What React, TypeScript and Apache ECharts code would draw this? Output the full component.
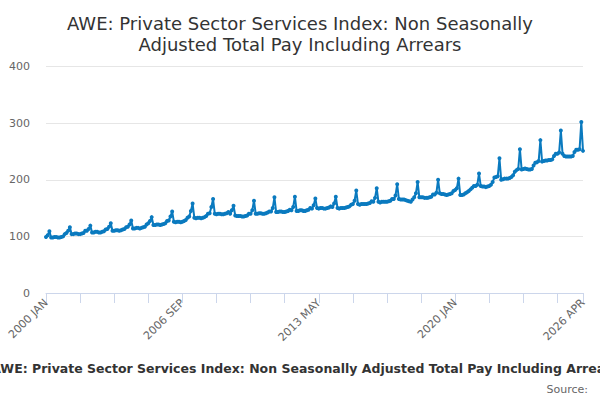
import React, { useEffect, useRef } from 'react';
import * as echarts from 'echarts';

const TITLE = 'AWE: Private Sector Services Index: Non Seasonally\nAdjusted Total Pay Including Arrears';
const FOOT = 'AWE: Private Sector Services Index: Non Seasonally Adjusted Total Pay Including Arrears';

const months = ['JAN', 'FEB', 'MAR', 'APR', 'MAY', 'JUN', 'JUL', 'AUG', 'SEP', 'OCT', 'NOV', 'DEC'];
const firstYear = 2000;

// monthly index values, one row per year (2000 = 100)
const y2000 = [99, 102, 109, 98, 98, 99, 99, 98, 98, 99, 100, 104];
const y2001 = [106, 110, 116, 104, 104, 105, 105, 104, 104, 105, 106, 110];
const y2002 = [110, 113, 119, 107, 107, 108, 108, 107, 107, 108, 109, 112];
const y2003 = [113, 117, 123, 110, 110, 111, 111, 110, 111, 112, 113, 116];
const y2004 = [117, 121, 128, 114, 114, 115, 115, 114, 115, 116, 117, 121];
const y2005 = [123, 127, 134, 120, 120, 121, 121, 120, 121, 122, 123, 127];
const y2006 = [128, 135, 144, 126, 125, 126, 126, 125, 126, 127, 129, 133];
const y2007 = [135, 145, 158, 133, 132, 133, 133, 132, 133, 134, 136, 140];
const y2008 = [141, 152, 166, 140, 139, 140, 140, 139, 139, 140, 141, 143];
const y2009 = [140, 146, 154, 137, 136, 136, 136, 135, 135, 136, 137, 140];
const y2010 = [140, 146, 163, 140, 140, 141, 141, 140, 140, 141, 142, 144];
const y2011 = [144, 150, 169, 143, 143, 144, 144, 143, 143, 144, 145, 147];
const y2012 = [146, 152, 170, 145, 145, 146, 146, 145, 145, 146, 147, 150];
const y2013 = [149, 155, 167, 150, 149, 150, 150, 149, 149, 150, 151, 153];
const y2014 = [152, 158, 170, 150, 149, 150, 150, 150, 151, 152, 153, 156];
const y2015 = [157, 163, 181, 157, 156, 157, 157, 157, 157, 158, 159, 162];
const y2016 = [161, 168, 185, 161, 160, 161, 161, 161, 161, 162, 163, 166];
const y2017 = [166, 172, 192, 166, 165, 165, 165, 164, 163, 162, 161, 165];
const y2018 = [169, 176, 196, 169, 169, 169, 168, 168, 168, 169, 170, 174];
const y2019 = [174, 177, 200, 176, 175, 175, 174, 173, 174, 175, 176, 180];
const y2020 = [182, 185, 202, 173, 173, 174, 176, 178, 180, 183, 186, 189];
const y2021 = [189, 191, 211, 189, 188, 188, 187, 188, 189, 191, 196, 204];
const y2022 = [205, 206, 238, 200, 201, 202, 202, 202, 203, 205, 208, 214];
const y2023 = [217, 219, 254, 218, 219, 220, 219, 218, 218, 219, 225, 230];
const y2024 = [231, 233, 270, 232, 233, 234, 234, 235, 235, 236, 242, 246];
const y2025 = [246, 248, 287, 246, 242, 241, 241, 241, 241, 242, 249, 253];
const y2026 = [253, 254, 302, 251];

const rows = [
  y2000, y2001, y2002, y2003, y2004, y2005, y2006, y2007, y2008, y2009,
  y2010, y2011, y2012, y2013, y2014, y2015, y2016, y2017, y2018, y2019,
  y2020, y2021, y2022, y2023, y2024, y2025, y2026,
];

export default function App() {
  const ref = useRef<HTMLDivElement | null>(null);

  useEffect(() => {
    if (!ref.current) return;
    const cats: string[] = [];
    const vals: number[] = [];
    rows.forEach((row, yi) => {
      row.forEach((v, mi) => {
        cats.push(`${firstYear + yi} ${months[mi]}`);
        vals.push(v);
      });
    });
    const last = cats.length - 1;

    const inst = echarts.init(ref.current, undefined, { renderer: 'svg' });
    inst.setOption({
      animation: false,
      textStyle: { fontFamily: 'DejaVu Sans' },
      title: {
        text: TITLE,
        left: 'center',
        top: 8,
        textStyle: { fontSize: 18, fontWeight: 'normal', color: '#333333', lineHeight: 21, fontFamily: 'DejaVu Sans' },
      },
      grid: { left: 46, right: 17, top: 66.5, bottom: 107 },
      xAxis: {
        type: 'category',
        data: cats,
        boundaryGap: false,
        axisLine: { lineStyle: { color: '#ccd6eb' } },
        axisTick: {
          length: 10,
          lineStyle: { color: '#ccd6eb' },
          interval: (i: number) => i % 20 === 0 || i === last,
        },
        axisLabel: {
          rotate: 45,
          color: '#666666',
          fontSize: 11,
          margin: 8,
          interval: (i: number) => i % 80 === 0 || i === last,
        },
        splitLine: { show: false },
      },
      yAxis: {
        type: 'value',
        min: 0,
        max: 400,
        interval: 100,
        axisLine: { show: false },
        axisTick: { show: false },
        axisLabel: { color: '#666666', fontSize: 11, margin: 16 },
        splitLine: { lineStyle: { color: '#e6e6e6' } },
      },
      series: [
        {
          type: 'line',
          data: vals,
          symbol: 'circle',
          symbolSize: 4,
          showSymbol: true,
          showAllSymbol: true,
          itemStyle: { color: '#0a7abf' },
          lineStyle: { width: 2, color: '#0a7abf' },
        },
      ],
      graphic: [
        {
          type: 'text',
          x: 305,
          y: 368,
          style: {
            text: FOOT,
            fontSize: 12.5,
            fontWeight: 'bold',
            fontFamily: 'DejaVu Sans',
            fill: '#333333',
            align: 'center',
            verticalAlign: 'middle',
          },
        },
        {
          type: 'text',
          x: 588,
          y: 389,
          style: {
            text: 'Source:',
            fontSize: 11,
            fontFamily: 'DejaVu Sans',
            fill: '#666666',
            align: 'right',
            verticalAlign: 'middle',
          },
        },
      ],
    });
    return () => inst.dispose();
  }, []);

  return <div ref={ref} style={{ position: 'absolute', left: 0, top: 0, width: 600, height: 400 }} />;
}
